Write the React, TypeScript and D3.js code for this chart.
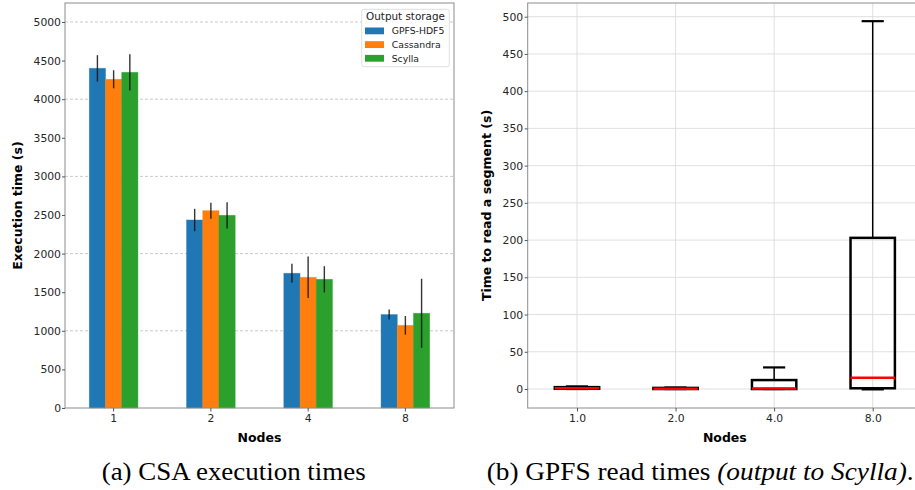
import React, { useEffect, useRef } from 'react';
import * as d3 from 'd3';

// left chart: CSA execution times
const nodes = ['1', '2', '4', '8'];
const storages = ['GPFS-HDF5', 'Cassandra', 'Scylla'];
const gpfsTimes = [4400, 2435, 1745, 1210];
const gpfsErr = [170, 145, 122, 65];
const cassandraTimes = [4258, 2556, 1693, 1071];
const cassandraErr = [117, 104, 268, 120];
const scyllaTimes = [4348, 2496, 1667, 1227];
const scyllaErr = [235, 170, 170, 447];
const leftTicks = [0, 500, 1000, 1500, 2000, 2500, 3000, 3500, 4000, 4500, 5000];
const leftGrid = [1000, 2000, 3000, 4000, 5000];

// right chart: GPFS read times (boxplot stats)
const boxNodes = ['1.0', '2.0', '4.0', '8.0'];
const boxLow = [0, 0, 0, -0.5];
const boxQ1 = [0.3, 0, 0, 1];
const boxMedian = [1, 0.5, 0.8, 15];
const boxQ3 = [2.5, 1.5, 12, 203];
const boxHigh = [3.5, 2, 29, 494];
const rightTicks = [0, 50, 100, 150, 200, 250, 300, 350, 400, 450, 500];

const colors = ['#1f77b4', '#ff7f0e', '#2ca02c'];
const FONT = "'DejaVu Sans', sans-serif";
const TICK_FS = 10.8;

export default function App() {
  const ref = useRef<SVGSVGElement>(null);

  useEffect(() => {
    const svg = d3.select(ref.current);
    svg.selectAll('*').remove();

    // ---------- left ----------
    const L = { left: 65, right: 454, top: 3, bottom: 408 };
    const x0 = d3.scaleBand().domain(nodes).range([L.left, L.right]).paddingInner(0.5).paddingOuter(0.25);
    const x1 = d3.scaleBand().domain(storages).range([0, x0.bandwidth()]);
    const yL = d3.scaleLinear().domain([0, 5246]).range([L.bottom, L.top]);

    const left = svg.append('g');
    left.selectAll('line.grid').data(leftGrid).enter().append('line')
      .attr('x1', L.left).attr('x2', L.right)
      .attr('y1', d => yL(d)).attr('y2', d => yL(d))
      .attr('stroke', '#bdbdbd').attr('stroke-width', 0.8).attr('stroke-dasharray', '3,2');

    const series = [
      { name: storages[0], vals: gpfsTimes, err: gpfsErr },
      { name: storages[1], vals: cassandraTimes, err: cassandraErr },
      { name: storages[2], vals: scyllaTimes, err: scyllaErr },
    ];
    series.forEach((s, si) => {
      const g = left.append('g');
      g.selectAll('rect').data(s.vals).enter().append('rect')
        .attr('x', (d, i) => x0(nodes[i])! + x1(s.name)!)
        .attr('width', x1.bandwidth())
        .attr('y', d => yL(d))
        .attr('height', d => yL(0) - yL(d))
        .attr('fill', colors[si])
        .attr('stroke', colors[si]).attr('stroke-opacity', 0.5).attr('stroke-width', 0.8);
    });
    series.forEach(s => {
      left.append('g').selectAll('line').data(s.vals).enter().append('line')
        .attr('x1', (d, i) => x0(nodes[i])! + x1(s.name)! + x1.bandwidth() / 2)
        .attr('x2', (d, i) => x0(nodes[i])! + x1(s.name)! + x1.bandwidth() / 2)
        .attr('y1', (d, i) => yL(d - s.err[i]))
        .attr('y2', (d, i) => yL(d + s.err[i]))
        .attr('stroke', '#111').attr('stroke-opacity', 0.85).attr('stroke-width', 1.4);
    });

    left.append('rect')
      .attr('x', L.left).attr('y', L.top)
      .attr('width', L.right - L.left).attr('height', L.bottom - L.top)
      .attr('fill', 'none').attr('stroke', '#8c8c8c').attr('stroke-width', 1);

    const xAxisL = left.append('g').attr('transform', `translate(0,${L.bottom})`)
      .call(d3.axisBottom(x0).tickSize(3.5).tickPadding(2.5));
    xAxisL.select('.domain').remove();
    xAxisL.selectAll('line').attr('stroke', '#555');
    xAxisL.selectAll('text').attr('font-family', FONT).attr('font-size', TICK_FS).attr('fill', '#262626');

    const yAxisL = left.append('g').attr('transform', `translate(${L.left},0)`)
      .call(d3.axisLeft(yL).tickValues(leftTicks).tickFormat(d3.format('d')).tickSize(3).tickPadding(1));
    yAxisL.select('.domain').remove();
    yAxisL.selectAll('line').attr('stroke', '#555');
    yAxisL.selectAll('text').attr('font-family', FONT).attr('font-size', TICK_FS).attr('fill', '#262626');

    left.append('text')
      .attr('x', (L.left + L.right) / 2).attr('y', 442)
      .attr('text-anchor', 'middle').attr('font-family', FONT)
      .attr('font-size', 12.5).attr('font-weight', 'bold').text('Nodes');
    left.append('text')
      .attr('transform', `translate(21.5,${(L.top + L.bottom) / 2}) rotate(-90)`)
      .attr('text-anchor', 'middle').attr('font-family', FONT)
      .attr('font-size', 12.5).attr('font-weight', 'bold').text('Execution time (s)');

    // legend
    const lg = left.append('g');
    lg.append('rect').attr('x', 361.7).attr('y', 9.3).attr('width', 87.6).attr('height', 57.4)
      .attr('rx', 2).attr('fill', 'white').attr('fill-opacity', 0.85)
      .attr('stroke', '#d6d6d6').attr('stroke-width', 0.8);
    lg.append('text').attr('x', 405.5).attr('y', 19.5).attr('text-anchor', 'middle')
      .attr('font-family', FONT).attr('font-size', 10.4).attr('fill', '#222').text('Output storage');
    storages.forEach((s, i) => {
      const yy = 34.3 + i * 13.7;
      lg.append('rect').attr('x', 365).attr('y', yy - 6.8).attr('width', 19).attr('height', 6.8)
        .attr('fill', colors[i]);
      lg.append('text').attr('x', 391.7).attr('y', yy)
        .attr('font-family', FONT).attr('font-size', 9.3).attr('fill', '#222').text(s);
    });

    // ---------- right ----------
    const R = { left: 527.7, right: 922, top: 3, bottom: 408 };
    const xR = d3.scalePoint().domain(boxNodes).range([R.left, R.right]).padding(0.5);
    const yR = d3.scaleLinear().domain([-25.5, 518.4]).range([R.bottom, R.top]);
    const right = svg.append('g');

    right.selectAll('line.gy').data(rightTicks).enter().append('line')
      .attr('x1', R.left).attr('x2', R.right)
      .attr('y1', d => yR(d)).attr('y2', d => yR(d))
      .attr('stroke', '#dcdcdc').attr('stroke-width', 0.9);
    right.selectAll('line.gx').data(boxNodes).enter().append('line')
      .attr('x1', d => xR(d)!).attr('x2', d => xR(d)!)
      .attr('y1', R.top).attr('y2', R.bottom)
      .attr('stroke', '#dcdcdc').attr('stroke-width', 0.9);

    right.append('rect')
      .attr('x', R.left).attr('y', R.top)
      .attr('width', R.right - R.left).attr('height', R.bottom - R.top)
      .attr('fill', 'none').attr('stroke', '#8c8c8c').attr('stroke-width', 1);

    const bw = xR.step() * 0.45;
    boxNodes.forEach((n, i) => {
      const cx = xR(n)!;
      const g = right.append('g');
      // whiskers
      g.append('line').attr('x1', cx).attr('x2', cx)
        .attr('y1', yR(boxQ3[i])).attr('y2', yR(boxHigh[i]))
        .attr('stroke', 'black').attr('stroke-width', 1.5);
      g.append('line').attr('x1', cx).attr('x2', cx)
        .attr('y1', yR(boxQ1[i])).attr('y2', yR(boxLow[i]))
        .attr('stroke', 'black').attr('stroke-width', 1.5);
      [boxHigh[i], boxLow[i]].forEach(v => {
        g.append('line').attr('x1', cx - bw / 4).attr('x2', cx + bw / 4)
          .attr('y1', yR(v)).attr('y2', yR(v))
          .attr('stroke', 'black').attr('stroke-width', 2.2);
      });
      g.append('rect')
        .attr('x', cx - bw / 2).attr('width', bw)
        .attr('y', yR(boxQ3[i])).attr('height', Math.max(yR(boxQ1[i]) - yR(boxQ3[i]), 0.5))
        .attr('fill', 'none').attr('stroke', 'black').attr('stroke-width', 2.5);
      g.append('line').attr('x1', cx - bw / 2).attr('x2', cx + bw / 2)
        .attr('y1', yR(boxMedian[i])).attr('y2', yR(boxMedian[i]))
        .attr('stroke', '#ff0000').attr('stroke-width', 2.5);
    });

    const xAxisR = right.append('g').attr('transform', `translate(0,${R.bottom})`)
      .call(d3.axisBottom(xR).tickSize(3.5).tickPadding(2.5));
    xAxisR.select('.domain').remove();
    xAxisR.selectAll('line').attr('stroke', '#555');
    xAxisR.selectAll('text').attr('font-family', FONT).attr('font-size', TICK_FS).attr('fill', '#262626');

    const yAxisR = right.append('g').attr('transform', `translate(${R.left},0)`)
      .call(d3.axisLeft(yR).tickValues(rightTicks).tickSize(3).tickPadding(1.5));
    yAxisR.select('.domain').remove();
    yAxisR.selectAll('line').attr('stroke', '#555');
    yAxisR.selectAll('text').attr('font-family', FONT).attr('font-size', TICK_FS).attr('fill', '#262626');

    right.append('text')
      .attr('x', (R.left + R.right) / 2).attr('y', 442)
      .attr('text-anchor', 'middle').attr('font-family', FONT)
      .attr('font-size', 12.5).attr('font-weight', 'bold').text('Nodes');
    right.append('text')
      .attr('transform', `translate(490.5,${(R.top + R.bottom) / 2}) rotate(-90)`)
      .attr('text-anchor', 'middle').attr('font-family', FONT)
      .attr('font-size', 12.5).attr('font-weight', 'bold').text('Time to read a segment (s)');

    // ---------- captions ----------
    const SERIF = "'Liberation Serif', serif";
    svg.append('text').attr('x', 233.7).attr('y', 480).attr('text-anchor', 'middle')
      .attr('font-family', SERIF).attr('font-size', 25)
      .attr('textLength', 264).attr('lengthAdjust', 'spacingAndGlyphs')
      .text('(a) CSA execution times');
    const cap = svg.append('text').attr('x', 486.7).attr('y', 480)
      .attr('font-family', SERIF).attr('font-size', 25)
      .attr('textLength', 427).attr('lengthAdjust', 'spacingAndGlyphs');
    cap.append('tspan').text('(b) GPFS read times ');
    cap.append('tspan').attr('font-style', 'italic').text('(output to Scylla)');
    cap.append('tspan').text('.');
  }, []);

  return (
    <div style={{ position: 'absolute', left: 0, top: 0 }}>
      <svg ref={ref} width={915} height={490} style={{ display: 'block', background: 'white' }} />
    </div>
  );
}
